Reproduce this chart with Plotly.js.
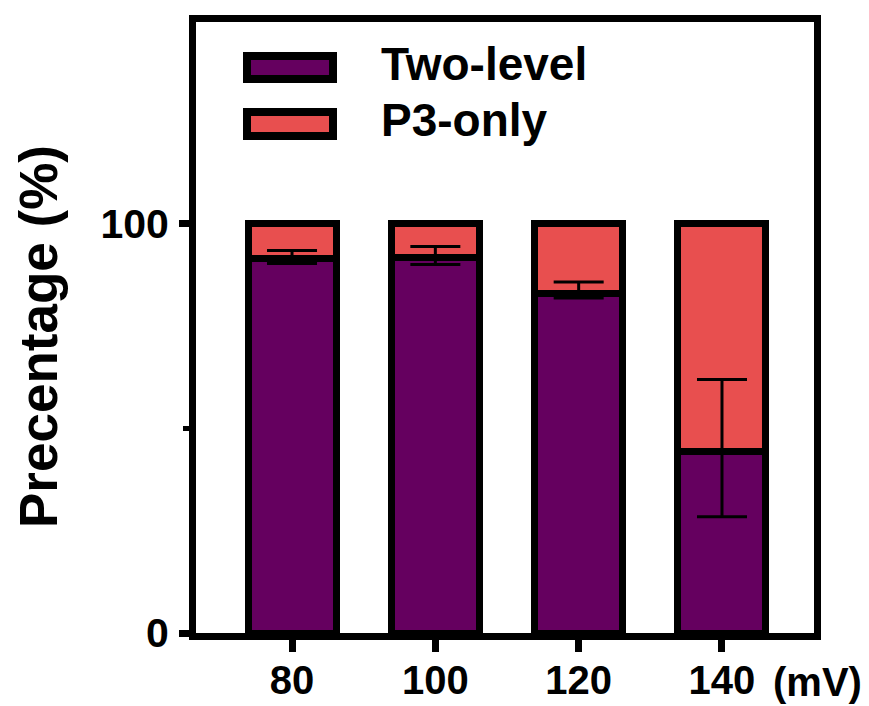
<!DOCTYPE html>
<html>
<head>
<meta charset="utf-8">
<script src="https://cdn.plot.ly/plotly-3.0.1.min.js"></script>
<style>html,body{margin:0;padding:0;background:#fff;}#chart{width:869px;height:706px;}</style>
</head>
<body>
<div id="chart"></div>
<script>
// ---- data ----
const categories = ['80', '100', '120', '140'];
const seriesNames = ['Two-level', 'P3-only'];
const twoLevel = [91.4, 91.6, 83.0, 44.3];
const p3Only = [8.6, 8.4, 17.0, 55.7];
const errPlus = [2.0, 2.8, 2.7, 17.6];
const errMinus = [1.2, 1.6, 1.2, 15.9];
const yTickVals = [0, 100];
const yTickText = ['0', '100'];
const unitLabel = '(mV)';
const yTitle = 'Precentage (%)';

const FONT = 'Liberation Sans, Arial, Helvetica, sans-serif';
const PURPLE = '#65005F';
const RED = '#E84F4F';

const traces = [
  {
    type: 'bar', name: seriesNames[0], x: categories, y: twoLevel,
    marker: {color: PURPLE, line: {color: '#000', width: 7}},
    showlegend: false, hoverinfo: 'x+y+name'
  },
  {
    type: 'bar', name: seriesNames[1], x: categories, y: p3Only,
    marker: {color: RED, line: {color: '#000', width: 7}},
    showlegend: false, hoverinfo: 'x+y+name'
  },
  {
    type: 'scatter', mode: 'markers', x: categories, y: twoLevel,
    marker: {opacity: 0, size: 1}, showlegend: false, hoverinfo: 'skip',
    error_y: {type: 'data', symmetric: false, array: errPlus, arrayminus: errMinus,
              color: '#000', thickness: 3, width: 25}
  }
];

// legend drawn as shapes + text in paper coordinates
const L = 196, W = 618, T = 22, H = 611;
const px = v => (v - L) / W;
const py = v => (T + H - v) / H;

const layout = {
  width: 869, height: 706,
  margin: {l: 196, r: 55, t: 22, b: 73, pad: 0},
  paper_bgcolor: '#fff', plot_bgcolor: '#fff',
  barmode: 'stack', bargap: 0.386,
  font: {family: FONT, size: 40, color: '#000', weight: 'bold'},
  xaxis: {
    type: 'category', range: [-0.670, 3.642],
    showline: true, linecolor: '#000', linewidth: 7, mirror: true,
    ticks: 'outside', ticklen: 12, tickwidth: 7, tickcolor: '#000',
    showgrid: false, zeroline: false, fixedrange: true,
    tickfont: {family: FONT, size: 40, color: '#000', weight: 'bold'},
    ticklabelstandoff: -6
  },
  yaxis: {
    range: [0, 149.2],
    tickvals: yTickVals, ticktext: yTickText,
    showline: true, linecolor: '#000', linewidth: 7, mirror: true,
    ticks: 'outside', ticklen: 10, tickwidth: 7, tickcolor: '#000',
    minor: {dtick: 50, ticks: 'outside', ticklen: 6, tickwidth: 5, tickcolor: '#000', showgrid: false},
    showgrid: false, zeroline: false, fixedrange: true,
    tickfont: {family: FONT, size: 41, color: '#000', weight: 'bold'},
    ticklabelstandoff: 2
  },
  shapes: [
    {type: 'rect', xref: 'paper', yref: 'paper', x0: px(247), x1: px(333), y0: py(79), y1: py(56),
     fillcolor: PURPLE, line: {color: '#000', width: 8}},
    {type: 'rect', xref: 'paper', yref: 'paper', x0: px(247), x1: px(333), y0: py(136), y1: py(112),
     fillcolor: RED, line: {color: '#000', width: 8}}
  ],
  annotations: [
    {xref: 'paper', yref: 'paper', x: px(38), y: py(337), xanchor: 'center', yanchor: 'middle',
     textangle: -90, text: yTitle, showarrow: false,
     font: {family: FONT, size: 53, color: '#000', weight: 'bold'}},
    {xref: 'paper', yref: 'paper', x: px(379), y: py(64), xanchor: 'left', yanchor: 'middle',
     text: seriesNames[0], showarrow: false, font: {family: FONT, size: 46, color: '#000', weight: 'bold'}},
    {xref: 'paper', yref: 'paper', x: px(379), y: py(120), xanchor: 'left', yanchor: 'middle',
     text: seriesNames[1], showarrow: false, font: {family: FONT, size: 46, color: '#000', weight: 'bold'}},
    {xref: 'paper', yref: 'paper', x: px(817), y: py(682), xanchor: 'center', yanchor: 'middle',
     text: unitLabel, showarrow: false, font: {family: FONT, size: 40, color: '#000', weight: 'bold'}}
  ]
};

Plotly.newPlot('chart', traces, layout, {displayModeBar: false, staticPlot: true});
</script>
</body>
</html>
